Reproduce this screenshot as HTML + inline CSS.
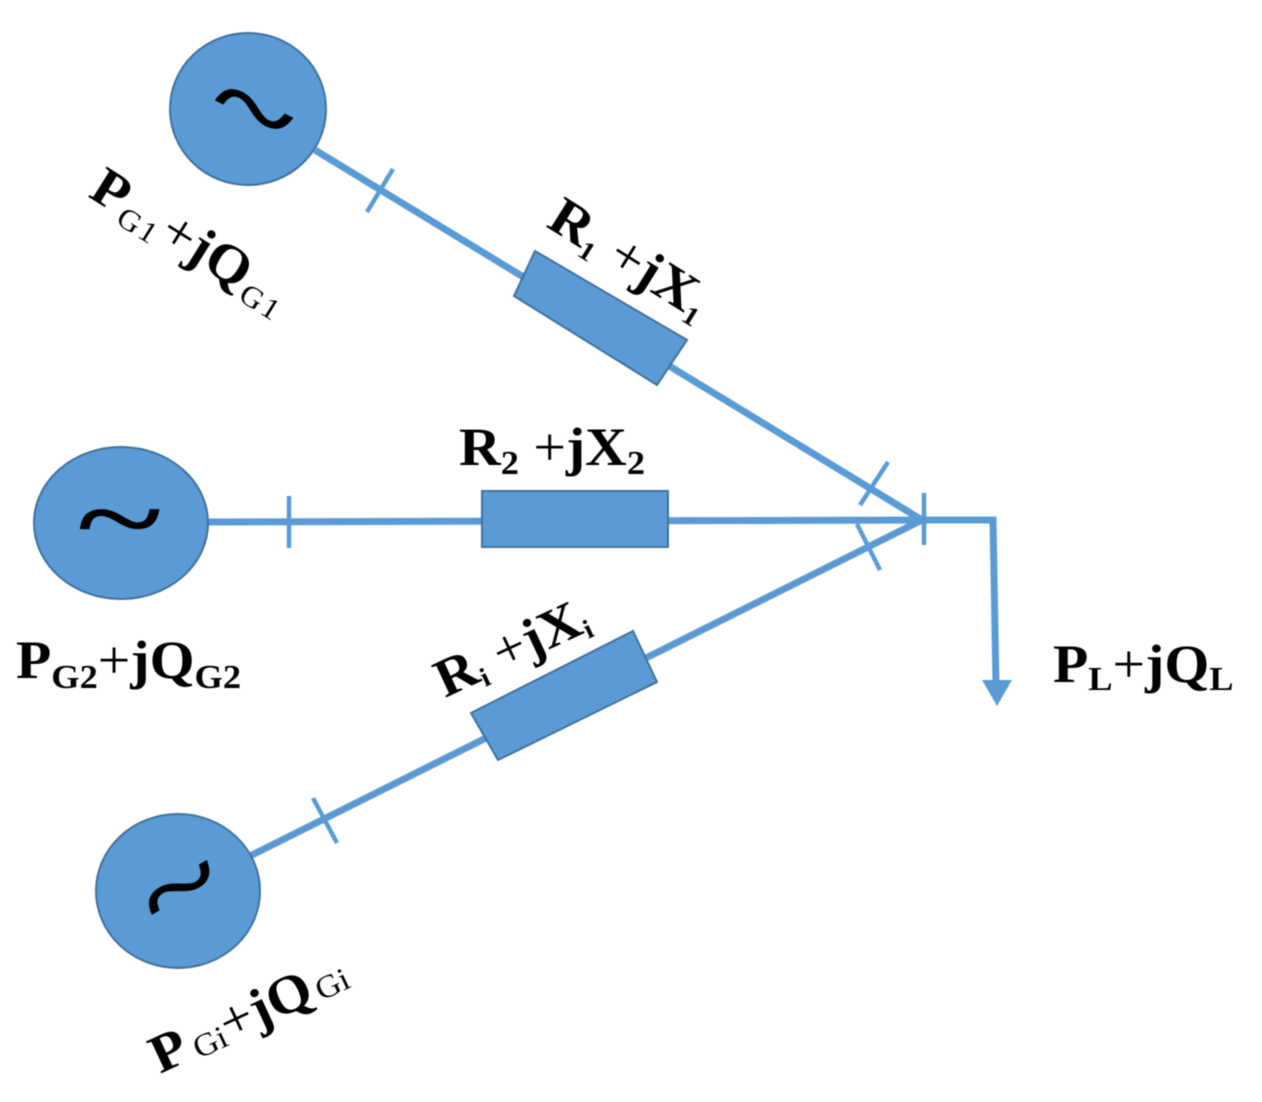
<!DOCTYPE html>
<html>
<head>
<meta charset="utf-8">
<style>
html,body{margin:0;padding:0;background:#fff;width:1262px;height:1102px;overflow:hidden}
svg{display:block;filter:blur(.5px)}
text{font-family:"Liberation Serif",serif;font-weight:bold;fill:#000}
.n{font-weight:normal}
</style>
</head>
<body>
<svg width="1262" height="1102" viewBox="0 0 1262 1102" xmlns="http://www.w3.org/2000/svg">
<g stroke="#5b9bd5" stroke-width="7" fill="none">
<line x1="315" y1="150" x2="922" y2="520"/>
<line x1="205" y1="522" x2="922" y2="520"/>
<line x1="250" y1="856" x2="922" y2="520"/>
<polyline points="922,520 993,520 996,685"/>
</g>
<g stroke="#5b9bd5" stroke-width="4.5" fill="none">
<line x1="393" y1="169" x2="367" y2="212"/>
<line x1="888" y1="462" x2="860" y2="505"/>
<line x1="289" y1="496" x2="289" y2="548"/>
<line x1="924" y1="493" x2="924" y2="545"/>
<line x1="857" y1="524" x2="880" y2="570"/>
<line x1="313" y1="798" x2="337" y2="843"/>
</g>
<polygon points="982,680 1012,680 997,706" fill="#5b9bd5"/>
<g fill="#5b9bd5" stroke="#41719c" stroke-width="2">
<ellipse cx="248" cy="109" rx="78" ry="76"/>
<ellipse cx="121" cy="523" rx="87" ry="76"/>
<ellipse cx="178" cy="891" rx="82" ry="77"/>
<polygon points="535,251 687,340 657,385 514,296"/>
<rect x="482" y="491" width="186" height="56"/>
<polygon points="471,713 633,631 657,682 498,760"/>
</g>
<g font-size="112" stroke="#000" stroke-width="1.2">
<text class="n" transform="translate(254,110) rotate(27) scale(1.4,1)" x="-30.5" y="36">~</text>
<text class="n" transform="translate(120,520) scale(1.43,1)" x="-30.5" y="36">~</text>
<text class="n" transform="translate(180,888) rotate(-30) scale(1.35,1)" x="-30.5" y="36">~</text>
</g>
<text transform="translate(87,196) rotate(32) scale(1.07,1)" font-size="54">P<tspan class="n" font-size="30" dy="8" dx="2" letter-spacing="2">G1</tspan><tspan class="n" dy="-8" dx="1">+</tspan>jQ<tspan class="n" font-size="30" dy="8" dx="3" letter-spacing="2">G1</tspan></text>
<text transform="translate(545,226) rotate(32) scale(1.07,1)" font-size="54">R<tspan font-size="27" dy="8">1</tspan><tspan class="n" dy="-8"> +</tspan>jX<tspan font-size="27" dy="8">1</tspan></text>
<text transform="translate(459,465) scale(1.07,1)" font-size="54">R<tspan font-size="34" dy="9">2</tspan><tspan class="n" dy="-9"> +</tspan>jX<tspan font-size="34" dy="9">2</tspan></text>
<text transform="translate(16,678) scale(1.07,1)" font-size="54">P<tspan font-size="34" dy="10">G2</tspan><tspan class="n" dy="-10">+</tspan>jQ<tspan font-size="34" dy="10">G2</tspan></text>
<text transform="translate(445,698) rotate(-25) scale(1.05,1)" font-size="54">R<tspan font-size="27" dy="7">i</tspan><tspan class="n" dy="-7"> +</tspan>jX<tspan font-size="27" dy="7">i</tspan></text>
<text transform="translate(1053,682) scale(1.07,1)" font-size="54">P<tspan font-size="34" dy="8">L</tspan><tspan class="n" dy="-8">+</tspan>jQ<tspan font-size="34" dy="8">L</tspan></text>
<text transform="translate(160,1074) rotate(-25) scale(1.07,1)" font-size="54">P<tspan class="n" font-size="32" dx="6" dy="3">Gi</tspan><tspan class="n" dy="-3">+</tspan>jQ<tspan class="n" font-size="32" dx="4" dy="2">Gi</tspan></text>
</svg>
</body>
</html>
